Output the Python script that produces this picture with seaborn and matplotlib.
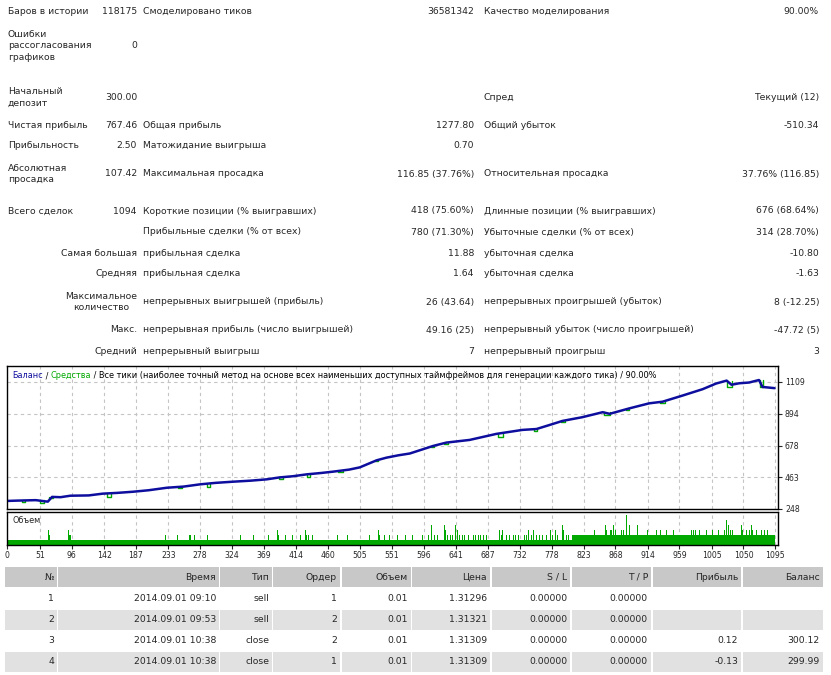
import matplotlib
matplotlib.use("Agg")
import matplotlib.pyplot as plt
from matplotlib.patches import Rectangle
import numpy as np
import pandas as pd
import seaborn as sns

sns.set_style("white")
plt.rcParams["font.family"] = ["DejaVu Sans"]

# ---- report summary --------------------------------------------------------
left_labels = ["Баров в истории", "Ошибки\nрассогласования\nграфиков", "Начальный\nдепозит",
               "Чистая прибыль", "Прибыльность", "Абсолютная\nпросадка", "Всего сделок", "",
               "Самая большая", "Средняя", "Максимальное\nколичество", "Макс.", "Средний"]
left_values = ["118175", "0", "300.00", "767.46", "2.50", "107.42", "1094", "", "", "", "", "", ""]
mid_labels = ["Смоделировано тиков", "", "", "Общая прибыль", "Матожидание выигрыша",
              "Максимальная просадка", "Короткие позиции (% выигравших)",
              "Прибыльные сделки (% от всех)", "прибыльная сделка", "прибыльная сделка",
              "непрерывных выигрышей (прибыль)", "непрерывная прибыль (число выигрышей)",
              "непрерывный выигрыш"]
mid_values = ["36581342", "", "", "1277.80", "0.70", "116.85 (37.76%)", "418 (75.60%)",
              "780 (71.30%)", "11.88", "1.64", "26 (43.64)", "49.16 (25)", "7"]
right_labels = ["Качество моделирования", "", "Спред", "Общий убыток", "",
                "Относительная просадка", "Длинные позиции (% выигравших)",
                "Убыточные сделки (% от всех)", "убыточная сделка", "убыточная сделка",
                "непрерывных проигрышей (убыток)", "непрерывный убыток (число проигрышей)",
                "непрерывный проигрыш"]
right_values = ["90.00%", "", "Текущий (12)", "-510.34", "", "37.76% (116.85)", "676 (68.64%)",
                "314 (28.70%)", "-10.80", "-1.63", "8 (-12.25)", "-47.72 (5)", "3"]

# ---- balance curve ----------------------------------------------------------
bal_trade = [0, 20, 45, 58, 62, 68, 80, 94, 120, 140, 160, 183, 205, 231, 255, 278, 300, 325,
             350, 373, 391, 410, 430, 450, 467, 490, 505, 529, 543, 560, 576, 609, 628, 661,
             699, 736, 756, 775, 793, 821, 850, 860, 888, 916, 935, 963, 992, 1011, 1026, 1033,
             1044, 1058, 1072, 1077, 1094]
bal_value = [302, 305, 308, 300, 298, 330, 328, 338, 340, 352, 357, 365, 375, 392, 400, 415,
             425, 433, 440, 449, 462, 470, 483, 492, 501, 515, 530, 578, 596, 612, 624, 675,
             698, 716, 757, 784, 790, 818, 845, 870, 904, 893, 930, 964, 975, 1016, 1060, 1098,
             1118, 1090, 1100, 1105, 1122, 1075, 1067]

# equity drawdowns below the balance line: start, end, balance level, equity low
dip_start = [26, 51, 64, 146, 247, 288, 391, 430, 474, 527, 606, 625, 702, 753, 791, 852,
             883, 931, 1026, 1073]
dip_end = [30, 57, 70, 151, 252, 293, 396, 435, 481, 531, 611, 630, 708, 757, 796, 860,
           888, 938, 1033, 1078]
dip_top = [305, 308, 330, 354, 400, 418, 462, 483, 505, 578, 673, 697, 757, 790, 845, 904,
           928, 975, 1118, 1122]
dip_low = [297, 291, 320, 331, 388, 395, 451, 467, 501, 570, 666, 689, 734, 779, 836, 885,
           919, 969, 1077, 1077]

# ---- volume per trade ------------------------------------------------------
n_trades = 1094
vol_step_trade = 807          # lot size doubles from this deal on
vol_base = [0.01, 0.02]
spike_trade = [63, 65, 91, 93, 94, 229, 246, 263, 264, 270, 289, 336, 352, 354, 375, 388, 390,
               399, 410, 421, 428, 430, 432, 438, 457, 474, 488, 519, 531, 533, 540, 547, 559,
               570, 580, 594, 602, 607, 609, 611, 615, 619, 625, 627, 630, 634, 637, 641, 644,
               647, 651, 654, 659, 663, 666, 670, 673, 677, 681, 685, 690, 703, 706, 708, 713,
               718, 723, 726, 730, 734, 739, 742, 745, 749, 752, 756, 760, 765, 770, 776, 779,
               783, 786, 793, 795, 798, 802, 805, 838, 854, 855, 861, 863, 866, 868, 877, 880,
               884, 886, 888, 900, 914, 926, 932, 940, 950, 957, 976, 979, 982, 988, 997, 1006,
               1014, 1023, 1026, 1029, 1031, 1035, 1047, 1049, 1054, 1058, 1061, 1063, 1068,
               1075, 1080, 1084]
spike_vol = [0.03, 0.02, 0.03, 0.02, 0.02, 0.02, 0.02, 0.02, 0.02, 0.02, 0.02, 0.02, 0.02, 0.02,
             0.02, 0.03, 0.02, 0.02, 0.02, 0.02, 0.03, 0.02, 0.02, 0.02, 0.02, 0.02, 0.02, 0.02,
             0.03, 0.02, 0.02, 0.02, 0.02, 0.02, 0.02, 0.02, 0.02, 0.04, 0.03, 0.02, 0.02, 0.02,
             0.04, 0.03, 0.02, 0.02, 0.02, 0.04, 0.03, 0.02, 0.02, 0.02, 0.02, 0.02, 0.02, 0.02,
             0.02, 0.02, 0.02, 0.02, 0.02, 0.03, 0.02, 0.03, 0.02, 0.02, 0.02, 0.02, 0.02, 0.02,
             0.02, 0.02, 0.03, 0.02, 0.03, 0.02, 0.02, 0.02, 0.02, 0.03, 0.02, 0.03, 0.02, 0.04,
             0.03, 0.02, 0.02, 0.02, 0.03, 0.04, 0.03, 0.03, 0.03, 0.04, 0.03, 0.03, 0.03, 0.06,
             0.05, 0.04, 0.04, 0.03, 0.03, 0.03, 0.03, 0.03, 0.03, 0.03, 0.03, 0.03, 0.03, 0.03,
             0.03, 0.03, 0.03, 0.05, 0.04, 0.03, 0.03, 0.04, 0.03, 0.03, 0.03, 0.04, 0.03, 0.03,
             0.03, 0.03, 0.03]

y_ticks = [248, 463, 678, 894, 1109]
x_tick_labels = [0, 51, 96, 142, 187, 233, 278, 324, 369, 414, 460, 505, 551, 596, 641, 687,
                 732, 778, 823, 868, 914, 959, 1005, 1050, 1095]

title_parts = ["Баланс", " / ", "Средства", " / Все тики (наиболее точный метод на основе всех "
               "наименьших доступных таймфреймов для генерации каждого тика) / 90.00%"]

# ---- deals table -----------------------------------------------------------
headers = ["№", "Время", "Тип", "Ордер", "Объем", "Цена", "S / L", "T / P", "Прибыль", "Баланс"]
deal_no = ["1", "2", "3", "4"]
deal_time = ["2014.09.01 09:10", "2014.09.01 09:53", "2014.09.01 10:38", "2014.09.01 10:38"]
deal_type = ["sell", "sell", "close", "close"]
deal_order = ["1", "2", "2", "1"]
deal_volume = ["0.01", "0.01", "0.01", "0.01"]
deal_price = ["1.31296", "1.31321", "1.31309", "1.31309"]
deal_sl = ["0.00000"] * 4
deal_tp = ["0.00000"] * 4
deal_profit = ["", "", "0.12", "-0.13"]
deal_balance = ["", "", "300.12", "299.99"]

W, H = 831, 675
FS = 6.7
CFS = 5.85
BLUE = "#0e0e9e"
GREEN = "#00a800"

fig = plt.figure(figsize=(W / 100, H / 100), dpi=100)
bg = fig.add_axes([0, 0, 1, 1])
bg.set_xlim(0, W)
bg.set_ylim(H, 0)
bg.axis("off")

# summary block
row_y = [11, 46, 97, 125, 146, 174, 211, 232, 253, 274, 302, 330, 351]
for i, y in enumerate(row_y):
    if i < 8:
        bg.text(8, y, left_labels[i], ha="left", va="center", fontsize=FS, linespacing=1.42)
    else:
        bg.text(137, y, left_labels[i], ha="right", va="center", fontsize=FS,
                linespacing=1.42, multialignment="center")
    bg.text(137, y, left_values[i], ha="right", va="center", fontsize=FS)
    bg.text(143, y, mid_labels[i], ha="left", va="center", fontsize=FS)
    bg.text(474, y, mid_values[i], ha="right", va="center", fontsize=FS)
    bg.text(484, y, right_labels[i], ha="left", va="center", fontsize=FS)
    bg.text(819, y, right_values[i], ha="right", va="center", fontsize=FS)

# deals table
col_l = [5, 58, 220, 273, 342, 412, 492, 572, 653, 743]
col_r = [57, 219, 272, 340, 411, 490, 570, 651, 741, 823]
columns = [deal_no, deal_time, deal_type, deal_order, deal_volume, deal_price, deal_sl,
           deal_tp, deal_profit, deal_balance]
row_tops = [567, 589, 610, 631, 652]
row_h = [20, 19, 20, 19, 20]
row_fill = ["#c8c8c8", "white", "#e1e1e1", "white", "#e1e1e1"]
for r in range(5):
    for c in range(10):
        bg.add_patch(Rectangle((col_l[c], row_tops[r]), col_r[c] - col_l[c], row_h[r],
                               facecolor=row_fill[r], edgecolor="none"))
        txt = headers[c] if r == 0 else columns[c][r - 1]
        bg.text(col_r[c] - 3, row_tops[r] + row_h[r] / 2, txt, ha="right", va="center",
                fontsize=FS)


def rect(l, t, r, b):
    return [l / W, (H - b) / H, (r - l) / W, (b - t) / H]


ax = fig.add_axes(rect(7, 366, 778, 509))
axv = fig.add_axes(rect(7, 512, 778, 545))
x_lo, x_hi = 4, 1099

# equity dips: small green boxes hanging under the balance line
dip_rows = []
for k, (t0, t1, top_v, low_v) in enumerate(zip(dip_start, dip_end, dip_top, dip_low)):
    for t, v in [(t0, top_v), (t0, low_v), (t1, low_v), (t1, top_v)]:
        dip_rows.append({"dip": k, "trade": t, "value": v})
dip_df = pd.DataFrame(dip_rows)
bal_df = pd.DataFrame({"trade": bal_trade, "value": bal_value})

sns.lineplot(data=dip_df, x="trade", y="value", units="dip", estimator=None, sort=False,
             ax=ax, color=GREEN, lw=1.0)
sns.lineplot(data=bal_df, x="trade", y="value", estimator=None, sort=False, ax=ax,
             color=BLUE, lw=1.8)

x_ticks = [max(v, x_lo) for v in x_tick_labels]
grid_kw = dict(color="#c4c4c4", lw=0.8, ls=(0, (3, 3)))
for a in (ax, axv):
    a.set_xlim(x_lo, x_hi)
    a.set_xticks(x_ticks)
    for v in x_ticks[1:]:
        a.axvline(v, zorder=0, **grid_kw)
    for s in a.spines.values():
        s.set_color("black")
        s.set_linewidth(1.0)
    a.set_xlabel("")
    a.set_ylabel("")

ax.set_ylim(248, 1217)
ax.set_yticks(y_ticks)
ax.yaxis.tick_right()
ax.tick_params(axis="y", length=3, width=0.8, pad=2, labelsize=5.6, right=True)
ax.tick_params(axis="x", bottom=False, labelbottom=False)
for v in y_ticks[1:]:
    ax.axhline(v, zorder=0, **grid_kw)

# volume bars
idx = np.arange(1, n_trades + 1)
vol = pd.Series(np.where(idx < vol_step_trade, vol_base[0], vol_base[1]), index=idx)
vol.loc[spike_trade] = spike_vol
axv.bar(vol.index, vol.values, width=1.3, color=GREEN, linewidth=0, zorder=2)
axv.set_ylim(0, 0.066)
axv.set_yticks([])
axv.set_xticklabels([str(v) for v in x_tick_labels])
axv.tick_params(axis="x", length=3, width=0.8, pad=1, labelsize=5.6, bottom=True)
axv.text(0.007, 0.75, "Объем", transform=axv.transAxes, fontsize=CFS, va="center")

# coloured chart caption on a transparent overlay
top = fig.add_axes([0, 0, 1, 1], facecolor="none")
top.set_xlim(0, W)
top.set_ylim(H, 0)
top.axis("off")
fig.canvas.draw()
renderer = fig.canvas.get_renderer()
x = 12
for part, col in zip(title_parts, [BLUE, "black", GREEN, "black"]):
    t = top.text(x, 376, part, color=col, fontsize=CFS, va="center", ha="left")
    x += t.get_window_extent(renderer=renderer).width

fig.savefig("out.png", dpi=100, facecolor="white")
